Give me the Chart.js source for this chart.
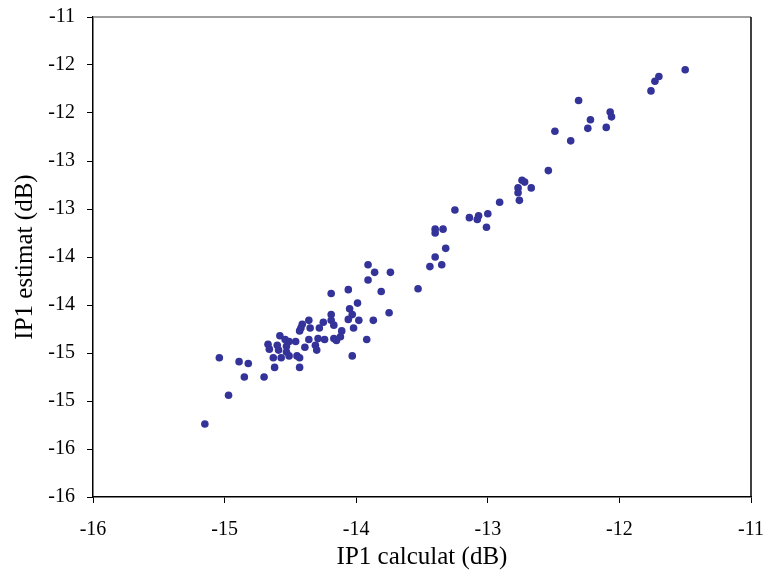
<!DOCTYPE html>
<html>
<head>
<meta charset="utf-8">
<script src="https://cdn.jsdelivr.net/npm/chart.js@4"></script>
<style>
  html, body { margin: 0; padding: 0; background: #ffffff; }
  #wrap { width: 766px; height: 573px; position: relative; }
</style>
</head>
<body>
<div id="wrap"><canvas id="scatterChart"></canvas></div>
<script>
// IP1 calculat (dB)
const calcValues = [
    -11.50, -11.70, -11.73, -11.76, -12.31, -12.07, -12.06, -12.22, -12.24, -12.10,
    -12.49, -12.37, -12.54, -12.74, -12.72, -12.67, -12.77, -12.77, -12.76, -12.91,
    -13.25, -13.14, -13.07, -13.08, -13.00, -13.01, -13.40, -13.40, -13.34, -13.32,
    -13.40, -13.44, -13.35, -13.74, -13.53, -13.75, -13.91, -13.86, -13.91, -14.19,
    -14.06, -13.81, -13.99, -14.05, -14.03, -14.19, -14.06, -13.98, -13.87, -14.25,
    -14.19, -14.17, -14.02, -14.11, -14.12, -14.24, -14.17, -14.15, -13.92, -14.03,
    -14.36, -14.41, -14.42, -14.35, -14.28, -14.43, -14.58, -14.54, -14.51, -14.46,
    -14.36, -14.29, -14.67, -14.60, -14.53, -14.39, -14.31, -14.30, -14.66, -14.59,
    -14.53, -14.63, -14.57, -14.51, -14.45, -14.43, -14.62, -14.43, -15.04, -14.89,
    -14.82, -14.85, -14.70, -14.97, -15.15
];

// IP1 estimat (dB)
const estValues = [
    -11.55, -11.62, -11.67, -11.77, -11.87, -11.99, -12.04, -12.07, -12.16, -12.15,
    -12.19, -12.29, -12.60, -12.70, -12.72, -12.78, -12.78, -12.83, -12.91, -12.93,
    -13.01, -13.09, -13.07, -13.11, -13.05, -13.19, -13.21, -13.25, -13.21, -13.41,
    -13.50, -13.60, -13.58, -13.66, -13.83, -14.08, -13.58, -13.66, -13.74, -13.88,
    -13.84, -13.86, -13.98, -14.04, -14.10, -14.10, -14.15, -14.16, -14.16, -14.18,
    -14.16, -14.21, -14.24, -14.27, -14.33, -14.36, -14.35, -14.37, -14.36, -14.53,
    -14.16, -14.20, -14.24, -14.24, -14.24, -14.27, -14.32, -14.36, -14.38, -14.38,
    -14.36, -14.35, -14.41, -14.42, -14.43, -14.44, -14.42, -14.47, -14.46, -14.47,
    -14.49, -14.55, -14.55, -14.53, -14.53, -14.55, -14.65, -14.65, -14.55, -14.59,
    -14.61, -14.75, -14.75, -14.94, -15.24
];

const xTickLabels = ['-16', '-15', '-14', '-13', '-12', '-11'];
const yTickLabels = ['-16', '-16', '-15', '-15', '-14', '-14', '-13', '-13', '-12', '-12', '-11'];

const colors = {
    point: '#333399',
    axis: '#000000',
    frame: '#808080',
    text: '#000000'
};

const points = calcValues.map((x, i) => ({ x: x, y: estValues[i] }));

// top and right edges of the plot area
const frameBorder = {
    id: 'frameBorder',
    beforeDatasetsDraw(chart) {
        const { ctx, chartArea } = chart;
        ctx.save();
        ctx.lineWidth = 1.5;
        ctx.strokeStyle = colors.frame;
        ctx.beginPath();
        ctx.moveTo(chartArea.left, chartArea.top);
        ctx.lineTo(chartArea.right, chartArea.top);
        ctx.stroke();
        ctx.strokeStyle = colors.axis;
        ctx.beginPath();
        ctx.moveTo(chartArea.right, chartArea.top);
        ctx.lineTo(chartArea.right, chartArea.bottom);
        ctx.stroke();
        ctx.restore();
    }
};

const ctx = document.getElementById('scatterChart').getContext('2d');
const chart = new Chart(ctx, {
    type: 'scatter',
    data: {
        datasets: [{
            label: 'IP1',
            data: points,
            backgroundColor: colors.point,
            borderColor: colors.point,
            borderWidth: 0,
            pointRadius: 3.8,
            pointHoverRadius: 3.8
        }]
    },
    options: {
        responsive: true,
        maintainAspectRatio: false,
        animation: false,
        layout: {
            padding: { left: 0, right: 15, top: 17, bottom: 0 }
        },
        plugins: {
            legend: { display: false },
            tooltip: { enabled: false }
        },
        scales: {
            x: {
                type: 'linear',
                min: -16,
                max: -11,
                afterFit: (scale) => {
                    scale.height = 76;
                    scale.paddingLeft = 0;
                    scale.paddingRight = 0;
                },
                ticks: {
                    stepSize: 1,
                    padding: 15,
                    color: colors.text,
                    font: { family: 'Liberation Serif', size: 20 },
                    callback: (value, index) => xTickLabels[index]
                },
                grid: {
                    drawOnChartArea: false,
                    drawTicks: true,
                    tickLength: 6,
                    color: colors.axis
                },
                border: { display: true, color: colors.axis, width: 1.5 },
                title: {
                    display: true,
                    text: 'IP1 calculat (dB)',
                    color: colors.text,
                    font: { family: 'Liberation Serif', size: 25 },
                    padding: { top: 0, bottom: 1 }
                }
            },
            y: {
                type: 'linear',
                min: -16,
                max: -11,
                afterFit: (scale) => {
                    scale.width = 93;
                    scale.paddingTop = 0;
                    scale.paddingBottom = 0;
                },
                ticks: {
                    stepSize: 0.5,
                    padding: 12,
                    color: colors.text,
                    font: { family: 'Liberation Serif', size: 20 },
                    callback: (value, index) => yTickLabels[index]
                },
                grid: {
                    drawOnChartArea: false,
                    drawTicks: true,
                    tickLength: 6,
                    color: colors.axis
                },
                border: { display: true, color: colors.axis, width: 1.5 },
                title: {
                    display: true,
                    text: 'IP1 estimat (dB)',
                    color: colors.text,
                    font: { family: 'Liberation Serif', size: 25 },
                    padding: { top: 10, bottom: 0 }
                }
            }
        }
    },
    plugins: [frameBorder]
});
</script>
</body>
</html>
